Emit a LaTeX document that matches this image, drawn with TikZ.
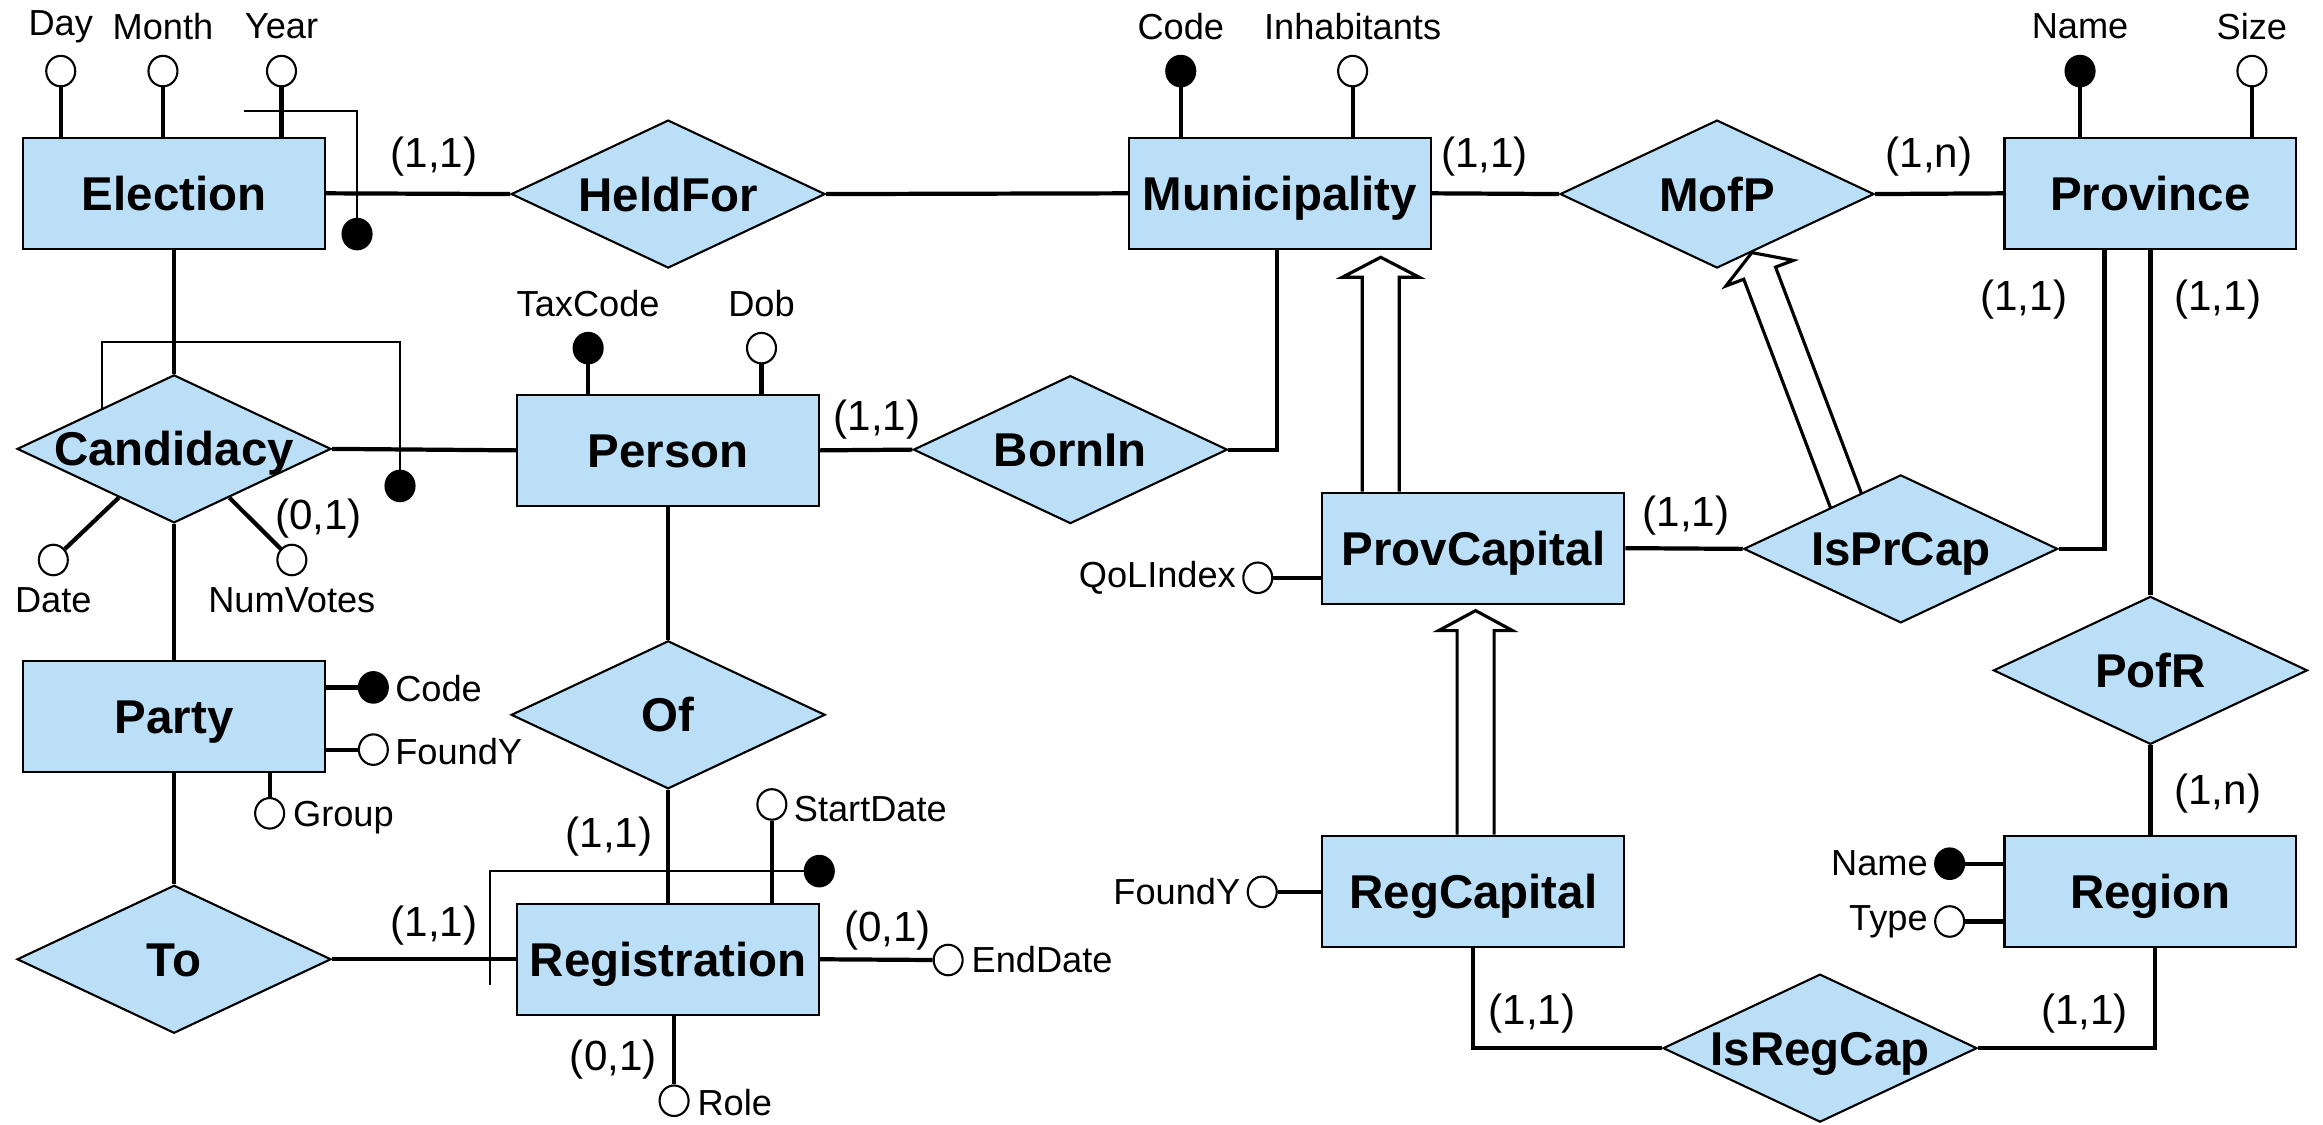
\documentclass[tikz,border=0pt]{standalone}
\usepackage{fontspec}
\setmainfont{Liberation Sans}
\usetikzlibrary{shapes.geometric,calc,backgrounds}
\definecolor{erblue}{RGB}{187,223,247}
\newcommand\genarrow[5]{%
  \coordinate (gH) at ($(#2)!#5!(#1)$);
  \draw[gen] ($(#1)!#3!90:(#2)$) -- ($(gH)!#3!90:(#2)$) -- ($(gH)!#4!90:(#2)$) -- (#2)
     -- ($(gH)!#4!-90:(#2)$) -- ($(gH)!#3!-90:(#2)$) -- ($(#1)!#3!-90:(#2)$);}
\begin{document}
\begin{tikzpicture}[x=0.014815cm,y=-0.014815cm,
  entity/.style={draw,line width=0.6pt,fill=erblue,minimum width=3.02cm,minimum height=1.11cm,inner sep=0,text height=9.7pt,text depth=0pt,font=\fontsize{13.5}{16}\selectfont\bfseries},
  rel/.style={diamond,draw,line width=0.6pt,fill=erblue,minimum width=3.14cm,minimum height=1.48cm,inner sep=0,aspect=2.12,text height=9.7pt,text depth=0pt,font=\fontsize{13.5}{16}\selectfont\bfseries},
  attr/.style={ellipse,draw,line width=0.6pt,fill=white,minimum width=0.29cm,minimum height=0.305cm,inner sep=0},
  keyattr/.style={attr,fill=black},
  lab/.style={font=\fontsize{10.3}{12}\selectfont,inner sep=1pt},
  card/.style={font=\fontsize{12}{14}\selectfont,inner sep=0},
  conn/.style={line width=1.2pt},
  idl/.style={line width=0.6pt},
  gen/.style={line width=0.9pt,fill=white}]
\useasboundingbox (0,0) rectangle (1568,759);

% entities
\node[entity] (election) at (117.5,130.5) {Election};
\node[entity] (muni) at (864,130.5) {Municipality};
\node[entity,minimum width=2.918cm] (prov) at (1451.5,130.5) {Province};
\node[entity] (person) at (451,304) {Person};
\node[entity] (pcap) at (994.5,370) {ProvCapital};
\node[entity] (party) at (117.5,483.5) {Party};
\node[entity] (reg) at (451,647.5) {Registration};
\node[entity] (rcap) at (994.5,601.5) {RegCapital};
\node[entity,minimum width=2.918cm] (region) at (1451.5,601.5) {Region};

% relationships
\node[rel] (heldfor) at (451,131) {HeldFor};
\node[rel] (mofp) at (1159,131) {MofP};
\node[rel] (cand) at (117.5,303) {Candidacy};
\node[rel] (bornin) at (722.5,303.5) {BornIn};
\node[rel] (isprcap) at (1283,370.5) {IsPrCap};
\node[rel] (of) at (451,482.5) {Of};
\node[rel] (pofr) at (1451.5,452.5) {PofR};
\node[rel] (to) at (117.5,647.5) {To};
\node[rel] (isregcap) at (1228.5,707.5) {IsRegCap};

% attributes
\node[attr] (eday) at (41,48) {};
\node[attr] (emonth) at (110,48) {};
\node[attr] (eyear) at (190,48) {};
\node[keyattr] (eid) at (241,158) {};
\node[lab] (leday) at (41,18) {Day};
\node[lab] (lemonth) at (110,18) {Month};
\node[lab] (leyear) at (190,18) {Year};

\node[keyattr] (mcode) at (797,48) {};
\node[attr] (minh) at (913,48) {};
\node[lab] (lmcode) at (797,18) {Code};
\node[lab] (lminh) at (913,18) {Inhabitants};

\node[keyattr] (pname) at (1404,48) {};
\node[attr] (psize) at (1520,48) {};
\node[lab] (lpname) at (1404,18) {Name};
\node[lab] (lpsize) at (1520,18) {Size};

\node[keyattr] (ptax) at (397,235) {};
\node[attr] (pdob) at (514,235) {};
\node[lab] (lptax) at (397,205) {TaxCode};
\node[lab] (lpdob) at (514,205) {Dob};

\node[attr] (cdate) at (36,378) {};
\node[attr] (cvotes) at (197,378) {};
\node[keyattr] (cid) at (270,328) {};
\node[lab] (lcdate) at (36,405) {Date};
\node[lab] (lcvotes) at (197,405) {NumVotes};

\node[keyattr] (pcode) at (252,464) {};
\node[attr] (pfound) at (252,506) {};
\node[attr] (pgroup) at (182,549) {};
\node[lab,anchor=west] (lpcode) at (264,465) {Code};
\node[lab,anchor=west] (lpfound) at (264,507) {FoundY};
\node[lab,anchor=west] (lpgroup) at (195,552) {Group};

\node[attr] (rstart) at (521,543) {};
\node[attr] (rend) at (640,648) {};
\node[attr] (rrole) at (455,743) {};
\node[keyattr] (rid) at (553,588) {};
\node[lab,anchor=west] (lrstart) at (533,546) {StartDate};
\node[lab,anchor=west] (lrend) at (653,648) {EndDate};
\node[lab,anchor=west] (lrrole) at (468,744) {Role};

\node[attr] (pq) at (849,390) {};
\node[lab,anchor=east] (lpq) at (837,390) {QoLIndex};
\node[attr] (rf) at (852,602) {};
\node[lab,anchor=east] (lrf) at (840,602) {FoundY};

\node[keyattr] (rgname) at (1316,583) {};
\node[attr] (rgtype) at (1316,622) {};
\node[lab,anchor=east] (lrgname) at (1304,583) {Name};
\node[lab,anchor=east] (lrgtype) at (1304,622) {Type};

% cardinalities
\node[card] (c1) at (293,106) {(1,1)};
\node[card] (c2) at (1002,106) {(1,1)};
\node[card] (c3) at (1302,106) {(1,n)};
\node[card] (c4) at (1366,202) {(1,1)};
\node[card] (c5) at (1497,202) {(1,1)};
\node[card] (c6) at (592,283) {(1,1)};
\node[card] (c7) at (215,350) {(0,1)};
\node[card] (c8) at (1138,348) {(1,1)};
\node[card] (c9) at (1497,536) {(1,n)};
\node[card] (c10) at (411,565) {(1,1)};
\node[card] (c11) at (293,625) {(1,1)};
\node[card] (c12) at (599,628) {(0,1)};
\node[card] (c13) at (414,715) {(0,1)};
\node[card] (c14) at (1034,684) {(1,1)};
\node[card] (c15) at (1407,684) {(1,1)};

\begin{pgfonlayer}{background}
% relationship connectors
\draw[conn] (election.east) -- (heldfor.west);
\draw[conn] (heldfor.east) -- (muni.west);
\draw[conn] (muni.east) -- (mofp.west);
\draw[conn] (mofp.east) -- (prov.west);
\draw[conn] (election.south) -- (cand.north);
\draw[conn] (cand.east) -- (person.west);
\draw[conn] (cand.south) -- (party.north);
\draw[conn] (party.south) -- (to.north);
\draw[conn] (to.east) -- (reg.west);
\draw[conn] (person.east) -- (bornin.west);
\draw[conn] (bornin.east) -| ($(muni.south)+(-2,0)$);
\draw[conn] (person.south) -- (of.north);
\draw[conn] (of.south) -- (reg.north);
\draw[conn] (pcap.east) -- (isprcap.west);
\draw[conn] (isprcap.east) -| ($(prov.south)+(-31,0)$);
\draw[conn] (prov.south) -- (pofr.north);
\draw[conn] (pofr.south) -- (region.north);
\draw[conn] ($(region.south)+(3,0)$) |- (isregcap.east);
\draw[conn] (rcap.south) |- (isregcap.west);

% attribute connectors
\foreach \a/\e in {eday/election,emonth/election,eyear/election,mcode/muni,minh/muni,pname/prov,psize/prov,ptax/person,pdob/person}
  \draw[conn] (\a.south) -- (\a.south |- \e.north);
\draw[conn] (cdate) -- ($(cand.west)!0.65!(cand.south)$);
\draw[conn] (cvotes) -- ($(cand.east)!0.65!(cand.south)$);
\draw[conn] (pcode.west) -- (pcode.west -| party.east);
\draw[conn] (pfound.west) -- (pfound.west -| party.east);
\draw[conn] (pgroup.north) -- (pgroup.north |- party.south);
\draw[conn] (rstart.south) -- (rstart.south |- reg.north);
\draw[conn] (reg.east) -- (rend.west);
\draw[conn] (rrole.north) -- (rrole.north |- reg.south);
\draw[conn] (pq.east) -- (pq.east -| pcap.west);
\draw[conn] (rf.east) -- (rf.east -| rcap.west);
\draw[conn] (rgname.east) -- (rgname.east -| region.west);
\draw[conn] (rgtype.east) -- (rgtype.east -| region.west);

% composite identifiers
\coordinate (eidstart) at (165,75);
\draw[idl] (eidstart) -| (eid);
\coordinate (cidstart) at (69,280);
\coordinate (cidtop) at (69,231);
\draw[idl] (cidstart) -- (cidtop) -| (cid);
\coordinate (ridstart) at (331,665);
\draw[idl] (ridstart) |- (rid);

% generalizations
\coordinate (g1a) at ($(pcap.north)+(-62.5,0)$);
\coordinate (g1b) at ($(g1a |- muni.south)+(0,5)$);
\genarrow{g1a}{g1b}{0.185cm}{0.385cm}{0.2cm}
\coordinate (g2a) at ($(rcap.north)+(1.5,0)$);
\coordinate (g2b) at ($(g2a |- pcap.south)+(0,4)$);
\genarrow{g2a}{g2b}{0.185cm}{0.37cm}{0.2cm}
\coordinate (g3a) at ($($(isprcap.north)!0.35!(isprcap.west)$)+(4,10)$);
\coordinate (g3b) at ($(mofp.south)!0.22!(mofp.east)$);
\genarrow{g3a}{g3b}{0.17cm}{0.36cm}{0.22cm}
\end{pgfonlayer}
\end{tikzpicture}
\end{document}
